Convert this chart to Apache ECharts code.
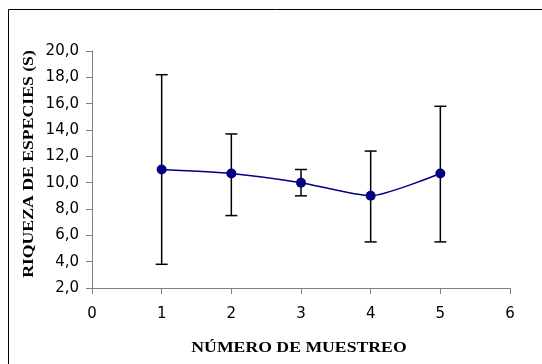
<!DOCTYPE html>
<html><head><meta charset="utf-8">
<script src="https://cdn.jsdelivr.net/npm/echarts@6/dist/echarts.min.js"></script>
<style>html,body{margin:0;padding:0;background:#fff}#c{width:542px;height:364px}</style>
</head><body><div id="c"></div>
<script>
var samples = [1, 2, 3, 4, 5];
var meanValues = [11.0, 10.7, 10.0, 9.0, 10.7];
var upperValues = [18.2, 13.7, 11.0, 12.4, 15.8];
var lowerValues = [3.8, 7.5, 9.0, 5.5, 5.5];
var xTitle = 'NÚMERO DE MUESTREO';
var yTitle = 'RIQUEZA DE ESPECIES (S)';

var chart = echarts.init(document.getElementById('c'), null, {renderer: 'canvas'});
var lineData = samples.map(function (s, i) { return [s, meanValues[i]]; });
var errData = samples.map(function (s, i) { return [s, lowerValues[i], upperValues[i]]; });

var titleFont = {fontFamily: 'Liberation Serif', fontWeight: 'bold', fontSize: 15, fill: '#000',
  align: 'center', verticalAlign: 'middle'};

chart.setOption({
  animation: false,
  backgroundColor: '#fff',
  graphic: [{
    type: 'rect', shape: {x: 8.5, y: 9.5, width: 600, height: 400},
    style: {fill: 'none', stroke: '#000', lineWidth: 1}, z: -1
  }, {
    type: 'text', x: 299, y: 348, scaleX: 1.18,
    style: Object.assign({text: xTitle}, titleFont)
  }, {
    type: 'text', x: 29, y: 164, rotation: Math.PI / 2, scaleX: 1.18,
    style: Object.assign({text: yTitle}, titleFont)
  }],
  grid: {left: 92, right: 32, top: 51, bottom: 76, containLabel: false},
  xAxis: {
    type: 'value', min: 0, max: 6, interval: 1,
    axisLine: {lineStyle: {color: '#808080', width: 1}},
    axisTick: {show: true, length: 6, lineStyle: {color: '#808080'}},
    axisLabel: {fontFamily: 'DejaVu Sans', fontSize: 15, color: '#000', margin: 19},
    splitLine: {show: false}
  },
  yAxis: {
    type: 'value', min: 2, max: 20, interval: 2,
    axisLine: {show: true, lineStyle: {color: '#808080', width: 1}},
    axisTick: {show: true, length: 6, lineStyle: {color: '#808080'}},
    axisLabel: {fontFamily: 'DejaVu Sans', fontSize: 15, color: '#000', margin: 13,
      formatter: function (v) { return v.toFixed(1).replace('.', ','); }},
    splitLine: {show: false}
  },
  series: [{
    type: 'custom',
    data: errData,
    z: 1,
    renderItem: function (params, api) {
      var x = api.value(0);
      var lo = api.coord([x, api.value(1)]);
      var hi = api.coord([x, api.value(2)]);
      var w = 6;
      var st = {stroke: '#000', lineWidth: 1.5};
      return {type: 'group', children: [
        {type: 'line', shape: {x1: lo[0], y1: lo[1], x2: hi[0], y2: hi[1]}, style: st},
        {type: 'line', shape: {x1: lo[0] - w, y1: lo[1], x2: lo[0] + w, y2: lo[1]}, style: st},
        {type: 'line', shape: {x1: hi[0] - w, y1: hi[1], x2: hi[0] + w, y2: hi[1]}, style: st}
      ]};
    }
  }, {
    type: 'line',
    data: lineData,
    smooth: 0.2,
    z: 2,
    symbol: 'circle', symbolSize: 10,
    itemStyle: {color: '#000080'},
    lineStyle: {color: '#000080', width: 1.5}
  }]
});
</script></body></html>
